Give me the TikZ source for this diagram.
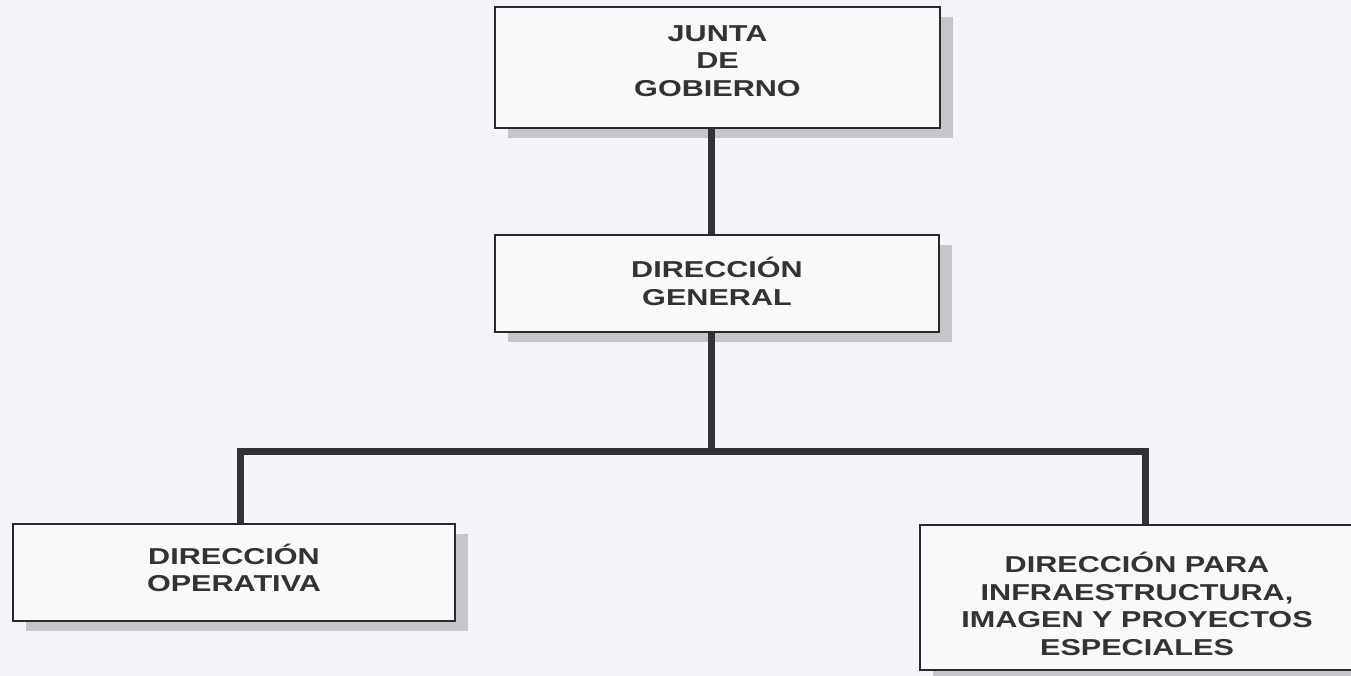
\documentclass[tikz,border=0pt]{standalone}
\usepackage{fontspec}
\setmainfont{Liberation Sans}[FakeStretch=1.33]
\usetikzlibrary{shadows}
\definecolor{bgcol}{HTML}{F3F5F8}
\definecolor{boxfill}{HTML}{F8F9FA}
\definecolor{boxline}{HTML}{2A2A2A}
\definecolor{shadowcol}{HTML}{C4C6CA}
\definecolor{linecol}{HTML}{303233}
\definecolor{txtcol}{HTML}{333333}
\newcommand{\boxlines}[2]{\raisebox{#1}[0pt][0pt]{\begin{tabular}{@{}c@{}}#2\end{tabular}}}
\tikzset{
  orgbox/.style={draw=boxline, line width=1.6pt, fill=boxfill, align=center,
    text=txtcol, inner sep=0pt, font=\bfseries\fontsize{23}{27.5}\selectfont,
    general shadow={fill=shadowcol, shadow xshift=13pt, shadow yshift=-10pt}},
  conn/.style={draw=linecol, line width=7pt, line join=miter}
}
\begin{document}
\begin{tikzpicture}[x=1pt,y=-1pt]
\useasboundingbox (0,0) rectangle (1351,676);
\clip (0,0) rectangle (1351,676);
\fill[bgcol] (0,0) rectangle (1351,676);
\node[orgbox, minimum width=445pt, minimum height=121pt] (junta) at (717.5,67.5) {\boxlines{-1.75pt}{JUNTA\\DE\\GOBIERNO}};
\node[orgbox, minimum width=444pt, minimum height=97pt] (gen) at (717,283.5) {\boxlines{-8.25pt}{DIRECCIÓN\\GENERAL}};
\node[orgbox, minimum width=442pt, minimum height=97pt] (op) at (234,572.5) {\boxlines{-5.75pt}{DIRECCIÓN\\OPERATIVA}};
\node[orgbox, minimum width=434pt, minimum height=145pt] (inf) at (1137,597.5) {\boxlines{-16.75pt}{DIRECCIÓN PARA\\INFRAESTRUCTURA,\\IMAGEN Y PROYECTOS\\ESPECIALES}};
\coordinate (spine) at (711,200);
\coordinate (bar) at (711,451);
\coordinate (lft) at (240,451);
\coordinate (rgt) at (1145,451);
\draw[conn] (junta.south -| spine) -- (gen.north -| spine);
\draw[conn] (gen.south -| spine) -- (bar);
\draw[conn] (op.north -| lft) |- (bar) -| (inf.north -| rgt);
\end{tikzpicture}
\end{document}
